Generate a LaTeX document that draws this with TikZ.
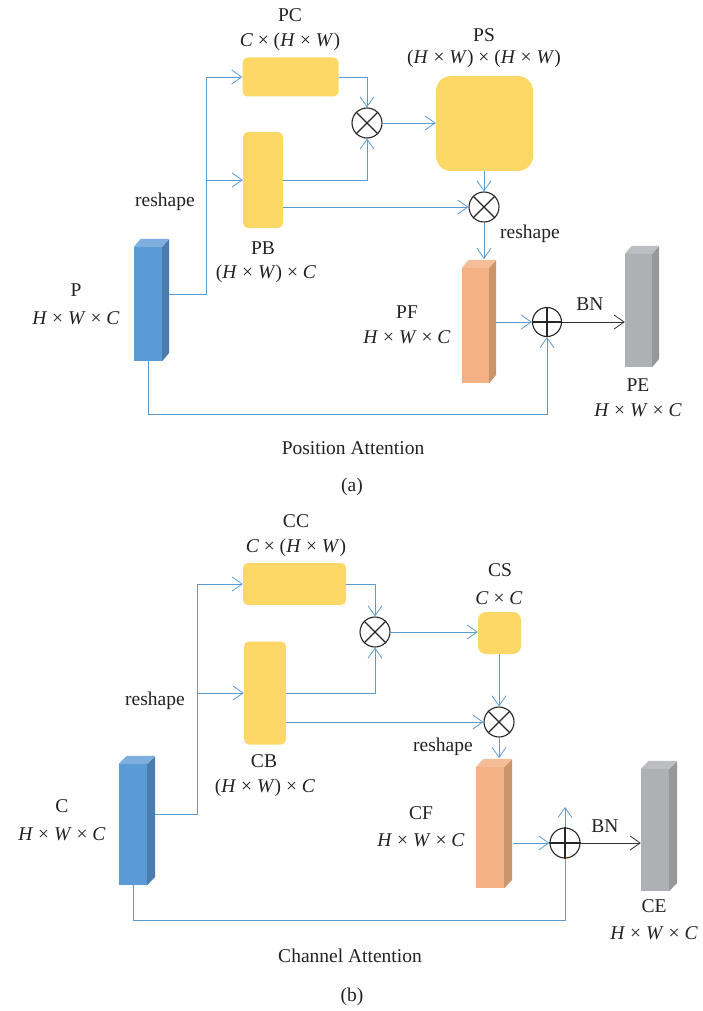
\documentclass[tikz,border=0pt]{standalone}
\usepackage{fontspec}
\setmainfont{Liberation Serif}
\usetikzlibrary{arrows.meta}
\definecolor{lblue}{HTML}{5B9BD5}
\definecolor{yel}{HTML}{FDD866}
\definecolor{bfront}{HTML}{5B9BD5}
\definecolor{bside}{HTML}{4A7CB0}
\definecolor{btop}{HTML}{7DAEDF}
\definecolor{ofront}{HTML}{F4B183}
\definecolor{oside}{HTML}{C8956C}
\definecolor{otop}{HTML}{F6BE98}
\definecolor{gfront}{HTML}{AFB0B3}
\definecolor{gside}{HTML}{97989B}
\definecolor{gtop}{HTML}{BDBEC1}
\definecolor{txt}{HTML}{222222}
\tikzset{
  conn/.style={draw=lblue, line width=0.9pt},
  arr/.style={conn, -{Straight Barb[length=10pt,width=14pt,line width=0.8pt]}},
  barr/.style={draw=black!80, line width=0.9pt, -{Straight Barb[length=10pt,width=14pt,line width=0.8pt]}},
  ybox/.style={fill=yel, draw=none, rounded corners=5pt, inner sep=0pt},
  opnode/.style={circle, draw=black!85, line width=1.1pt, minimum size=30pt, inner sep=0pt},
  lbl/.style={font=\fontsize{19.5}{22}\selectfont, text=txt, inner sep=0pt},
}
\newcommand{\vH}{\textit{H}}
\newcommand{\vW}{\textit{W}}
\newcommand{\vC}{\textit{C}}
\newcommand{\HWC}{\vH\ × \vW\ × \vC}
% name, cx, cy, w, h, front, side, top, depth-x
\newcommand{\mycube}[9]{%
  \node[fill=#6, draw=none, minimum width=#4pt, minimum height=#5pt, inner sep=0pt] (#1) at (#2,#3) {};
  \fill[#7] (#1.north east) -- ++(#9,-8) -- ++(0,#5) -- (#1.south east) -- cycle;
  \fill[#8] (#1.north west) -- ++(#9,-8) -- ++(#4,0) -- (#1.north east) -- cycle;
}
\newcommand{\mytimes}[1]{\draw[black!85, line width=1.1pt] (#1.north west) -- (#1.south east) (#1.north east) -- (#1.south west);}
\newcommand{\myplus}[1]{\draw[black!85, line width=1.1pt] (#1.north) -- (#1.south) (#1.east) -- (#1.west);}
\begin{document}
\begin{tikzpicture}[x=1pt,y=-1pt]
\useasboundingbox (0,0) rectangle (703,1011);
% ================= (a) =================
\mycube{P}{148}{304}{28}{114}{bfront}{bside}{btop}{7}
\mycube{PF}{475.5}{325.5}{27}{115}{ofront}{oside}{otop}{7}
\mycube{PE}{638.5}{310.5}{27}{113}{gfront}{gside}{gtop}{7}
\node[ybox, minimum width=96pt, minimum height=39pt] (PC) at (290.5,77) {};
\node[ybox, minimum width=40pt, minimum height=96pt] (PB) at (263,180) {};
\node[ybox, rounded corners=15pt, minimum width=97pt, minimum height=95pt] (PS) at (484.5,123.5) {};
\node[opnode] (X1) at (367,123) {};
\node[opnode] (X2) at (484,207) {};
\node[opnode, minimum size=29pt] (A) at (547,322) {};
\mytimes{X1}
\mytimes{X2}
\myplus{A}
\coordinate (Ps) at (169,294);
\coordinate (Pv) at (206,294);
\coordinate (PFt) at (484,259);
\coordinate (PFr) at (496,322);
\draw[arr] (Ps) -- (Pv) |- (PC.west);
\draw[arr] (Pv) |- (PB.west);
\draw[arr] (PC.east) -| (X1.north);
\draw[arr] (PB.east) -| (X1.south);
\draw[arr] (PB.east |- X2) -- (X2.west);
\draw[arr] (X1.east) -- (PS.west |- X1);
\draw[arr] (PS.south -| X2) -- (X2.north);
\draw[arr] (X2.south) -- (PFt);
\draw[arr] (PFr) -- (A.west);
\draw[arr] (P.south) -- ++(0,53) -| (A.south);
\draw[barr] (A.east) -- (PE.west |- A);
\node[lbl] (lPC) at (290,15) {PC};
\node[lbl] (lPCd) at (290,42) {\vC\ × (\vH\ × \vW)};
\node[lbl] (lPS) at (484,35) {PS};
\node[lbl] (lPSd) at (484,59) {(\vH\ × \vW) × (\vH\ × \vW)};
\node[lbl] (lr1) at (165,202) {reshape};
\node[lbl] (lPB) at (263,248) {PB};
\node[lbl] (lPBd) at (266,274) {(\vH\ × \vW) × \vC};
\node[lbl] (lP) at (76,290) {P};
\node[lbl] (lPd) at (76,318) {\HWC};
\node[lbl] (lr2) at (530,234) {reshape};
\node[lbl] (lPF) at (407,312) {PF};
\node[lbl] (lPFd) at (407,337) {\HWC};
\node[lbl] (lBN1) at (590,304) {BN};
\node[lbl] (lPE) at (638,385) {PE};
\node[lbl] (lPEd) at (638,410) {\HWC};
\node[lbl] (tA) at (353,448) {Position Attention};
\node[lbl] (cA) at (352,487) {(a)};
% ================= (b) =================
\mycube{C}{133}{824.5}{28}{121}{bfront}{bside}{btop}{8}
\mycube{CF}{490}{827.5}{28}{121}{ofront}{oside}{otop}{8}
\mycube{CE}{655}{830}{28}{122}{gfront}{gside}{gtop}{8}
\node[ybox, minimum width=103pt, minimum height=42pt] (CC) at (294.5,584) {};
\node[ybox, minimum width=42pt, minimum height=103pt] (CB) at (265,693) {};
\node[ybox, rounded corners=8pt, minimum width=43pt, minimum height=42pt] (CS) at (499.5,633) {};
\node[opnode] (X3) at (375,632) {};
\node[opnode] (X4) at (499,722) {};
\coordinate (Cs) at (155,814);
\coordinate (Cv) at (197,814);
\coordinate (CFt) at (499,758);
\coordinate (CFr) at (513,843);
\coordinate (Bt) at (565,807);
\draw[arr] (Cs) -- (Cv) |- (CC.west);
\draw[arr] (Cv) |- (CB.west);
\draw[arr] (CC.east) -| (X3.north);
\draw[arr] (CB.east) -| (X3.south);
\draw[arr] (CB.east |- X4) -- (X4.west);
\draw[arr] (X3.east) -- (CS.west |- X3);
\draw[arr] (CS.south -| X4) -- (X4.north);
\draw[arr] (X4.south) -- (CFt);
\draw[arr] (C.south) -- ++(0,35.5) -| (Bt);
\node[opnode] (B) at (565,843) {};
\myplus{B}
\draw[arr] (CFr) -- (B.west);
\draw[barr] (B.east) -- (CE.west |- B);
\mytimes{X3}
\mytimes{X4}
\node[lbl] (lCC) at (296,521) {CC};
\node[lbl] (lCCd) at (296,548) {\vC\ × (\vH\ × \vW)};
\node[lbl] (lCS) at (500,570) {CS};
\node[lbl] (lCSd) at (499,598) {\vC\ × \vC};
\node[lbl] (lr3) at (155,701) {reshape};
\node[lbl] (lCB) at (264,761) {CB};
\node[lbl] (lCBd) at (265,788) {(\vH\ × \vW) × \vC};
\node[lbl] (lC) at (62,806) {C};
\node[lbl] (lCd) at (62,834) {\HWC};
\node[lbl] (lr4) at (443,747) {reshape};
\node[lbl] (lCF) at (421,813) {CF};
\node[lbl] (lCFd) at (421,840) {\HWC};
\node[lbl] (lBN2) at (605,826) {BN};
\node[lbl] (lCE) at (654,906) {CE};
\node[lbl] (lCEd) at (654,933) {\HWC};
\node[lbl] (tB) at (350,956) {Channel Attention};
\node[lbl] (cB) at (352,997) {(b)};
\end{tikzpicture}
\end{document}
